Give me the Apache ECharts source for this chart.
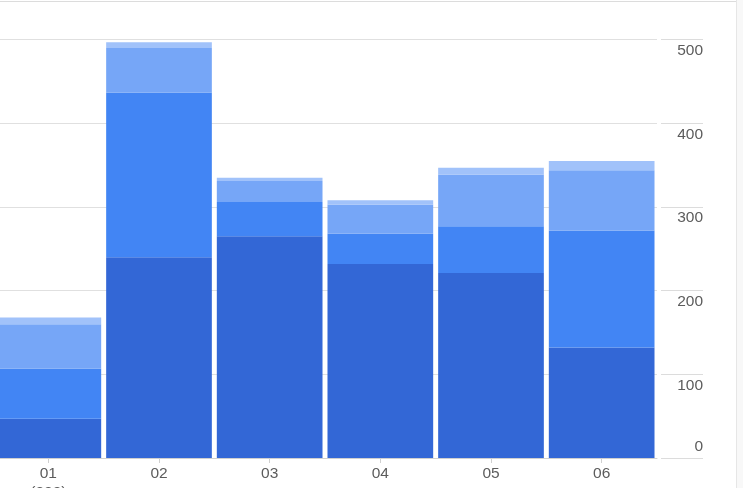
<!DOCTYPE html>
<html>
<head>
<meta charset="utf-8">
<script src="https://cdn.jsdelivr.net/npm/echarts@6/dist/echarts.min.js"></script>
<style>
html,body{margin:0;padding:0;background:#fff;}
#c{width:743px;height:488px;}
</style>
</head>
<body>
<div id="c"></div>
<script>
const categories = ['01', '02', '03', '04', '05', '06'];
const categoryLabels = ['01\n(222)', '02', '03', '04', '05', '06'];
const seriesNames = ['A', 'B', 'C', 'D'];
const seriesA = [47, 240, 265, 232, 221, 132];
const seriesB = [60, 197, 41, 36, 56, 140];
const seriesC = [53, 53, 25, 35, 62, 72];
const seriesD = [8, 7, 4, 5, 8, 11];
const yTicks = [0, 100, 200, 300, 400, 500];

const colors = ['#3367d6', '#4285f4', '#76a6f7', '#a1c2fa'];
const values = [seriesA, seriesB, seriesC, seriesD];

const chart = echarts.init(document.getElementById('c'), null, {renderer: 'canvas'});
const font = 'Arial, "Liberation Sans", sans-serif';

chart.setOption({
  animation: false,
  backgroundColor: '#fff',
  grid: {left: -7, right: 86, top: 39.7, bottom: 30, containLabel: false, outerBoundsMode: 'none'},
  xAxis: {
    type: 'category',
    data: categories,
    boundaryGap: true,
    axisLine: {show: true, lineStyle: {color: '#d0d0d0', width: 1}},
    axisTick: {show: true, alignWithLabel: true, length: 5, lineStyle: {color: '#d0d0d0'}},
    axisLabel: {
      margin: 6,
      color: '#5c5c5c',
      fontFamily: font,
      fontSize: 15.5,
      lineHeight: 19,
      formatter: function (v, i) { return categoryLabels[i]; }
    },
    splitLine: {show: false}
  },
  yAxis: {
    type: 'value',
    position: 'right',
    offset: 4,
    min: yTicks[0],
    max: yTicks[yTicks.length - 1],
    interval: yTicks[1] - yTicks[0],
    axisLine: {show: false},
    axisTick: {show: true, length: 42, lineStyle: {color: '#dcdcdc'}},
    axisLabel: {
      align: 'right',
      margin: 42,
      verticalAlign: 'middle',
      color: '#5c5c5c',
      fontFamily: font,
      fontSize: 15.5,
      lineHeight: 22,
      formatter: function (v) { return v === 0 ? '0\n ' : ' \n' + v; }
    },
    splitLine: {show: true, lineStyle: {color: '#e0e0e0', width: 1}}
  },
  series: values.map(function (vals, k) {
    return {
      name: seriesNames[k],
      type: 'bar',
      stack: 'total',
      data: vals,
      barCategoryGap: '4.5%',
      itemStyle: {color: colors[k]}
    };
  }),
  graphic: [
    {type: 'rect', shape: {x: 737, y: 0, width: 6, height: 488}, style: {fill: '#f8f8f8'}, silent: true},
    {type: 'line', shape: {x1: 736.5, y1: 0, x2: 736.5, y2: 488}, style: {stroke: '#e6e6e6', lineWidth: 1}, silent: true},
    {type: 'line', shape: {x1: 0, y1: 1.5, x2: 736, y2: 1.5}, style: {stroke: '#dcdcdc', lineWidth: 1}, silent: true}
  ]
});
</script>
</body>
</html>
